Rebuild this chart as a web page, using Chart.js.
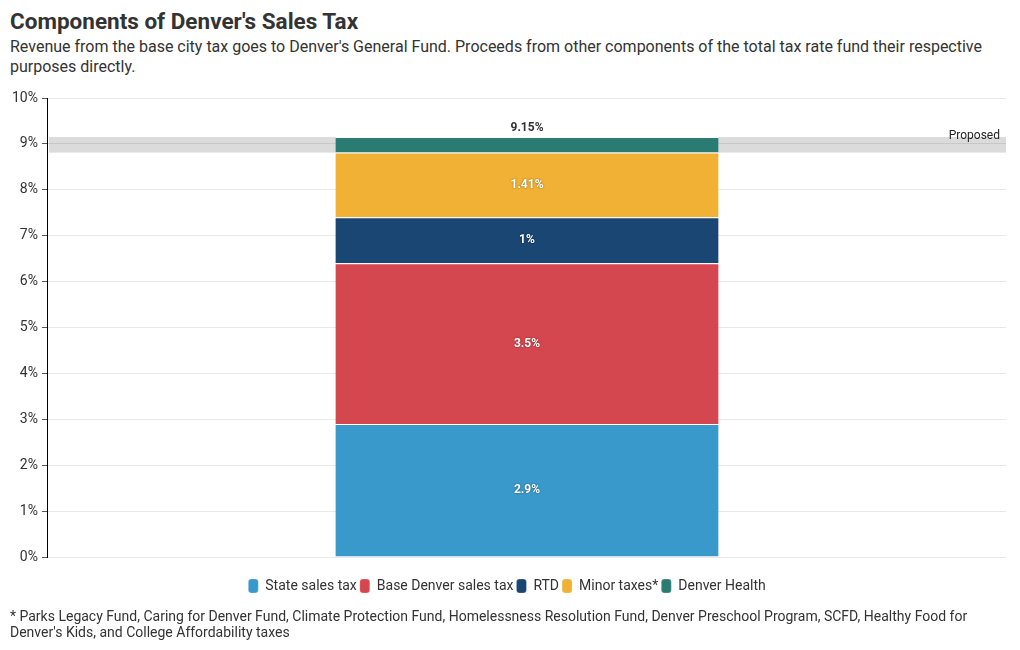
<!DOCTYPE html>
<html>
<head>
<meta charset="utf-8">
<script src="https://cdn.jsdelivr.net/npm/chart.js@4.4.1/dist/chart.umd.min.js"></script>
<style>
  body { margin: 0; background: #fff; font-family: Roboto, sans-serif; color: #333; }
  #title { position: absolute; left: 10px; top: 8px; font-size: 22.5px; font-weight: bold; color: #333; }
  #subtitle { position: absolute; left: 10px; top: 37px; width: 1000px; font-size: 16px; line-height: 20px; color: #333; }
  #wrap { position: absolute; left: 0; top: 80px; width: 1020px; height: 531px; }
  #note { position: absolute; left: 10px; top: 608px; width: 1000px; font-size: 14px; line-height: 16px; color: #333; }
</style>
</head>
<body>
<div id="title">Components of Denver's Sales Tax</div>
<div id="subtitle">Revenue from the base city tax goes to Denver's General Fund. Proceeds from other components of the total tax rate fund their respective purposes directly.</div>
<div id="wrap"><canvas id="taxChart"></canvas></div>
<div id="note">* Parks Legacy Fund, Caring for Denver Fund, Climate Protection Fund, Homelessness Resolution Fund, Denver Preschool Program, SCFD, Healthy Food for Denver's Kids, and College Affordability taxes</div>

<script>
const categories = ["Sales tax"];
const seriesNames = ["State sales tax", "Base Denver sales tax", "RTD", "Minor taxes*", "Denver Health"];
const seriesValues = [2.9, 3.5, 1, 1.41, 0.34];
const seriesColors = ["#3a99cb", "#d5474f", "#1a4674", "#f0b134", "#2a7b72"];
const totalLabel = "9.15%";
const proposedBand = [8.81, 9.15];
const yTicks = [0, 10, 1];

// grey "Proposed" band behind the bar
const bandPlugin = {
  id: "band",
  beforeDatasetsDraw(chart) {
    const { ctx, chartArea, scales } = chart;
    const yTop = scales.y.getPixelForValue(proposedBand[1]);
    const yBot = scales.y.getPixelForValue(proposedBand[0]);
    ctx.save();
    ctx.fillStyle = "rgba(0,0,0,0.14)";
    ctx.fillRect(chartArea.left + 1, yTop, chartArea.right - chartArea.left - 1, yBot - yTop);
    ctx.fillStyle = "#222";
    ctx.font = "12px Roboto";
    ctx.textAlign = "right";
    ctx.textBaseline = "middle";
    ctx.fillText("Proposed", chartArea.right - 6, yTop - 1);
    ctx.restore();
  }
};

// value labels inside the segments, total on top
const labelPlugin = {
  id: "labels",
  afterDatasetsDraw(chart) {
    const { ctx } = chart;
    ctx.save();
    ctx.font = "bold 12px Roboto";
    ctx.textAlign = "center";
    ctx.textBaseline = "middle";
    chart.data.datasets.forEach((ds, i) => {
      const meta = chart.getDatasetMeta(i);
      meta.data.forEach((bar, j) => {
        const h = bar.base - bar.y;
        if (h < 20) return;
        ctx.shadowColor = "rgba(0,0,0,0.5)";
        ctx.shadowBlur = 2;
        ctx.fillStyle = "#fff";
        ctx.fillText(ds.data[j] + "%", bar.x, (bar.y + bar.base) / 2);
      });
    });
    const last = chart.getDatasetMeta(chart.data.datasets.length - 1).data[0];
    ctx.shadowBlur = 0;
    ctx.shadowColor = "transparent";
    ctx.fillStyle = "#333";
    ctx.fillText(totalLabel, last.x, last.y - 9);
    ctx.restore();
  }
};

const chart = new Chart(document.getElementById("taxChart"), {
  type: "bar",
  data: {
    labels: categories,
    datasets: seriesNames.map((name, i) => ({
      label: name,
      data: [seriesValues[i]],
      backgroundColor: seriesColors[i],
      borderColor: "#fff",
      borderWidth: { top: 1, left: 0, right: 0, bottom: 0 },
      borderSkipped: false,
      barPercentage: 0.4,
      categoryPercentage: 1
    }))
  },
  options: {
    responsive: true,
    maintainAspectRatio: false,
    animation: false,
    layout: { padding: { top: 18, right: 14, left: 8, bottom: 8 } },
    plugins: {
      legend: {
        position: "bottom",
        labels: {
          boxWidth: 10,
          boxHeight: 14,
          useBorderRadius: true,
          borderRadius: 3,
          padding: 3,
          color: "#333",
          font: { family: "Roboto", size: 14 }
        }
      },
      tooltip: { enabled: false }
    },
    scales: {
      x: {
        stacked: true,
        display: true,
        ticks: { display: false },
        grid: { display: false },
        border: { display: false },
        afterFit(scale) { scale.height = 19; }
      },
      y: {
        stacked: true,
        min: yTicks[0],
        max: yTicks[1],
        ticks: {
          stepSize: yTicks[2],
          color: "#333",
          font: { family: "Roboto", size: 14 },
          padding: 4,
          callback: v => v + "%"
        },
        grid: {
          color: "#e8e8e8",
          tickColor: "#555",
          tickLength: 6
        },
        border: { display: true, color: "#000", width: 1 }
      }
    }
  },
  plugins: [bandPlugin, labelPlugin]
});
</script>
</body>
</html>
